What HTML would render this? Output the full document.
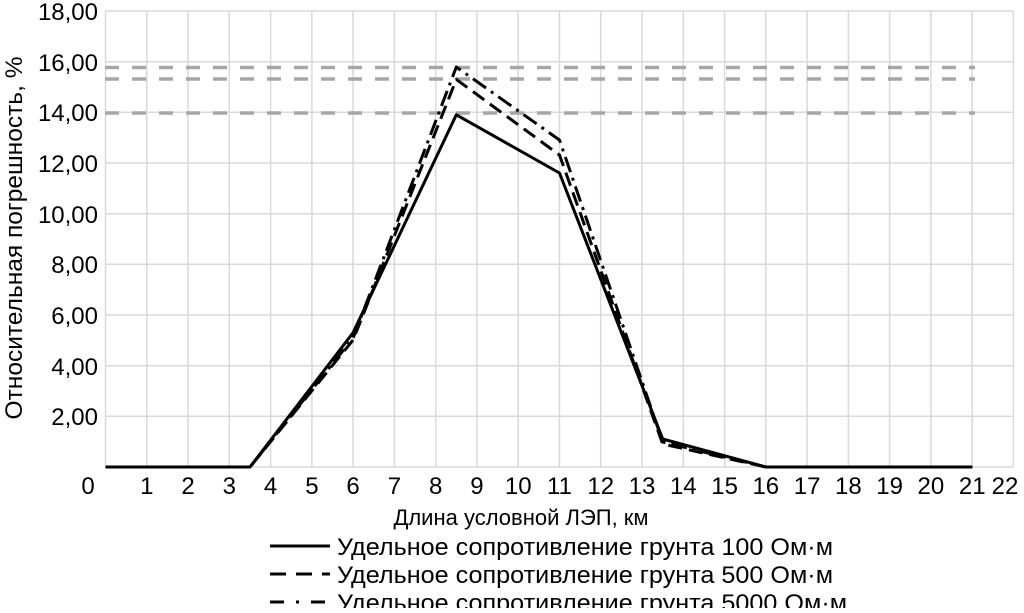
<!DOCTYPE html>
<html><head><meta charset="utf-8"><style>body{margin:0;background:#fff}</style></head><body>
<svg width="1024" height="608" xmlns="http://www.w3.org/2000/svg" font-family="Liberation Sans, sans-serif" font-size="24" fill="#000">
<g stroke="#d9d9d9" stroke-width="1.5">
<line x1="105.5" y1="11" x2="105.5" y2="467"/>
<line x1="146.8" y1="11" x2="146.8" y2="467"/><line x1="188" y1="11" x2="188" y2="467"/><line x1="229.3" y1="11" x2="229.3" y2="467"/><line x1="270.6" y1="11" x2="270.6" y2="467"/><line x1="311.9" y1="11" x2="311.9" y2="467"/><line x1="353.1" y1="11" x2="353.1" y2="467"/><line x1="394.4" y1="11" x2="394.4" y2="467"/><line x1="435.7" y1="11" x2="435.7" y2="467"/><line x1="476.9" y1="11" x2="476.9" y2="467"/><line x1="518.2" y1="11" x2="518.2" y2="467"/><line x1="559.5" y1="11" x2="559.5" y2="467"/><line x1="600.7" y1="11" x2="600.7" y2="467"/><line x1="642" y1="11" x2="642" y2="467"/><line x1="683.3" y1="11" x2="683.3" y2="467"/><line x1="724.6" y1="11" x2="724.6" y2="467"/><line x1="765.8" y1="11" x2="765.8" y2="467"/><line x1="807.1" y1="11" x2="807.1" y2="467"/><line x1="848.4" y1="11" x2="848.4" y2="467"/><line x1="889.6" y1="11" x2="889.6" y2="467"/><line x1="930.9" y1="11" x2="930.9" y2="467"/><line x1="972.2" y1="11" x2="972.2" y2="467"/><line x1="1013.4" y1="11" x2="1013.4" y2="467"/>
<line x1="105" y1="11" x2="1013" y2="11"/><line x1="105" y1="61.7" x2="1013" y2="61.7"/><line x1="105" y1="112.3" x2="1013" y2="112.3"/><line x1="105" y1="163" x2="1013" y2="163"/><line x1="105" y1="213.7" x2="1013" y2="213.7"/><line x1="105" y1="264.3" x2="1013" y2="264.3"/><line x1="105" y1="315" x2="1013" y2="315"/><line x1="105" y1="365.7" x2="1013" y2="365.7"/><line x1="105" y1="416.3" x2="1013" y2="416.3"/><line x1="105" y1="467" x2="1013" y2="467"/>
</g>
<g stroke="#a6a6a6" stroke-width="3.5" stroke-dasharray="14,13">
<line x1="105" y1="67.5" x2="975" y2="67.5"/><line x1="105" y1="79" x2="975" y2="79"/><line x1="105" y1="113" x2="975" y2="113"/>
</g>
<g fill="none" stroke="#000" stroke-width="3" stroke-linejoin="round">
<polyline points="105.5,467 250,467 353.1,332.7 456.3,114.8 559.5,173 662.7,439 765.8,467 972.2,467"/>
<polyline stroke-dasharray="14,7" points="105.5,467 250,467 353.1,340 456.3,79.4 559.5,155 662.7,444 765.8,467 972.2,467"/>
<polyline stroke-dasharray="16,6,3,6" points="105.5,467 250,467 353.1,338 456.3,67 559.5,140 662.7,442 765.8,467 972.2,467"/>
</g>
<g text-anchor="end">
<text x="98" y="20">18,00</text><text x="98" y="71">16,00</text><text x="98" y="121">14,00</text><text x="98" y="172">12,00</text><text x="98" y="223">10,00</text><text x="98" y="273">8,00</text><text x="98" y="324">6,00</text><text x="98" y="375">4,00</text><text x="98" y="425">2,00</text>
</g>
<g text-anchor="middle">
<text x="88" y="494">0</text><text x="146.8" y="494">1</text><text x="188" y="494">2</text><text x="229.3" y="494">3</text><text x="270.6" y="494">4</text><text x="311.9" y="494">5</text><text x="353.1" y="494">6</text><text x="394.4" y="494">7</text><text x="435.7" y="494">8</text><text x="476.9" y="494">9</text><text x="518.2" y="494">10</text><text x="559.5" y="494">11</text><text x="600.7" y="494">12</text><text x="642" y="494">13</text><text x="683.3" y="494">14</text><text x="724.6" y="494">15</text><text x="765.8" y="494">16</text><text x="807.1" y="494">17</text><text x="848.4" y="494">18</text><text x="889.6" y="494">19</text><text x="930.9" y="494">20</text><text x="972.2" y="494">21</text><text x="1005" y="494">22</text>
<text x="521" y="525" font-size="22">Длина условной ЛЭП, км</text>
<text transform="translate(22,238) rotate(-90)" font-size="24.5">Относительная погрешность, %</text>
</g>
<g stroke="#000" stroke-width="3">
<line x1="270" y1="546" x2="330" y2="546"/>
<line x1="270" y1="574" x2="330" y2="574" stroke-dasharray="16,10"/>
<line x1="270" y1="602" x2="330" y2="602" stroke-dasharray="14,12,3,12"/>
</g>
<g transform="translate(337,0) scale(1.05,1)">
<text x="0" y="555">Удельное сопротивление грунта 100 Ом·м</text>
<text x="0" y="583">Удельное сопротивление грунта 500 Ом·м</text>
<text x="0" y="611">Удельное сопротивление грунта 5000 Ом·м</text>
</g>
</svg>
</body></html>
